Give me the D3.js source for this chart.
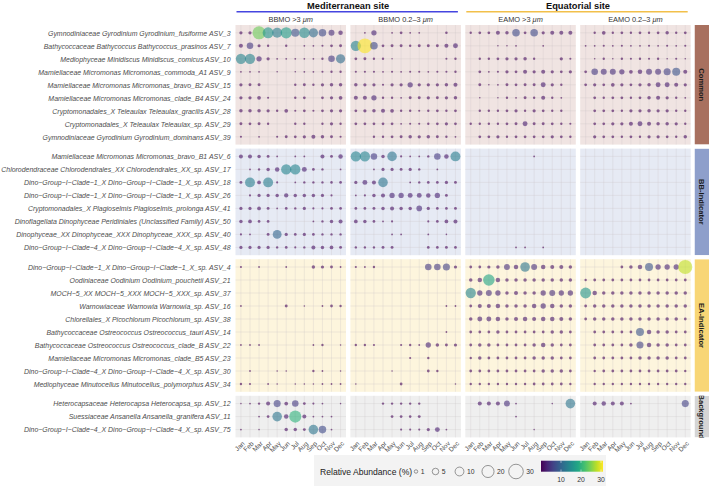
<!DOCTYPE html>
<html><head><meta charset="utf-8">
<script src="https://cdn.jsdelivr.net/npm/d3@7"></script>
<style>
body{margin:0;background:#fff;}
svg{display:block;font-family:"Liberation Sans",Arial,Helvetica,sans-serif;}
</style>
</head><body>
<svg id="chart" width="709" height="486"></svg>
<script>
// ---------------- DATA ----------------
const months = ["Jan","Feb","Mar","Apr","May","Jun","Jul","Aug","Sep","Oct","Nov","Dec"];
const siteTitles = ["Mediterranean site","Equatorial site"];
const panelTitles = [["BBMO >3 ","μm"],["BBMO 0.2–3 ","μm"],["EAMO >3 ","μm"],["EAMO 0.2–3 ","μm"]];
const groupNames = ["Common","BB-Indicator","EA-Indicator","Background"];

const commonRows = [
 "Gymnodiniaceae Gyrodinium Gyrodinium_fusiforme ASV_3",
 "Bathycoccaceae Bathycoccus Bathycoccus_prasinos ASV_7",
 "Mediophyceae Minidiscus Minidiscus_comicus ASV_10",
 "Mamiellaceae Micromonas Micromonas_commoda_A1 ASV_9",
 "Mamiellaceae Micromonas Micromonas_bravo_B2 ASV_15",
 "Mamiellaceae Micromonas Micromonas_clade_B4 ASV_24",
 "Cryptomonadales_X Teleaulax Teleaulax_gracilis ASV_28",
 "Cryptomonadales_X Teleaulax Teleaulax_sp. ASV_29",
 "Gymnodiniaceae Gyrodinium Gyrodinium_dominans ASV_39"];
const bbRows = [
 "Mamiellaceae Micromonas Micromonas_bravo_B1 ASV_6",
 "Chlorodendraceae Chlorodendrales_XX Chlorodendrales_XX_sp. ASV_17",
 "Dino−Group−I−Clade−1_X Dino−Group−I−Clade−1_X_sp. ASV_18",
 "Dino−Group−I−Clade−1_X Dino−Group−I−Clade−1_X_sp. ASV_26",
 "Cryptomonadales_X Plagioselmis Plagioselmis_prolonga ASV_41",
 "Dinoflagellata Dinophyceae Peridiniales (Unclassified Family) ASV_50",
 "Dinophyceae_XX Dinophyceae_XXX Dinophyceae_XXX_sp. ASV_40",
 "Dino−Group−I−Clade−4_X Dino−Group−I−Clade−4_X_sp. ASV_48"];
const eaRows = [
 "Dino−Group−I−Clade−1_X Dino−Group−I−Clade−1_X_sp. ASV_4",
 "Oodiniaceae Oodinium Oodinium_pouchetii ASV_21",
 "MOCH−5_XX MOCH−5_XXX MOCH−5_XXX_sp. ASV_37",
 "Warnowiaceae Warnowia Warnowia_sp. ASV_16",
 "Chlorellales_X Picochlorum Picochlorum_sp. ASV_38",
 "Bathycoccaceae Ostreococcus Ostreococcus_tauri ASV_14",
 "Bathycoccaceae Ostreococcus Ostreococcus_clade_B ASV_22",
 "Mamiellaceae Micromonas Micromonas_clade_B5 ASV_23",
 "Dino−Group−I−Clade−4_X Dino−Group−I−Clade−4_X_sp. ASV_30",
 "Mediophyceae Minutocellus Minutocellus_polymorphus ASV_34"];
const bgRows = [
 "Heterocapsaceae Heterocapsa Heterocapsa_sp. ASV_12",
 "Suessiaceae Ansanella Ansanella_granifera ASV_11",
 "Dino−Group−I−Clade−4_X Dino−Group−I−Clade−4_X_sp. ASV_75"];

// relative abundance (%) per row (order: common, bb, ea, background) x month; 0 = absent
const bbmoLarge = [
 [0.8,0.8,24,16,13,17,8,15,11,7,4,2],
 [1.5,5,0.7,0.3,0,0.3,0,0.1,0.1,0.2,0.5,0.6],
 [14,14,3,0.8,0.1,0.1,0.1,0.1,0.1,0.3,5,11],
 [0.1,0.1,0.1,0,0.05,0,0.05,0.1,0.1,0.2,0.3,0.3],
 [0.8,0.6,0.6,0,0,0,0.3,0.6,0.3,0.8,1,1],
 [0.8,0.8,1.2,0.2,0,0,0.3,0.5,0,0.5,0.8,1.2],
 [1,1,1,0.8,0.3,1.2,0.2,0.5,0.2,0.5,0.8,0.8],
 [0.6,0.5,0.6,0.3,0,0,0.3,0.3,0,0.3,0.8,0.3],
 [0.2,0,0.1,0,0.2,0.6,0.5,0.8,1.5,1,0.6,0.2],
 [1.5,1.5,1,0.6,0.1,0,0.1,0.1,0,1.5,0.6,2],
 [0,0.1,0.3,1,2,14,14,2.5,0.5,0.3,0,0.1],
 [0.6,13,1.2,13,0.2,0,0.1,0.3,0.3,0.3,0.4,0.5],
 [0,0.2,0.8,0.8,1,1.8,1,1,1,0.8,0.2,0],
 [0.8,0.8,1.2,0.6,0.1,0.5,0.3,0.8,0.2,0.2,0.5,0.5],
 [1,1.2,0.5,0.5,0,0,0,0,0.1,0.3,1,1.5],
 [0.2,0.1,0,0.6,10,0.8,0.5,0.8,0.5,0.3,0.3,0.3],
 [0.8,0.8,0.8,0.8,0.3,0.5,0.2,0.3,1.5,1,1.2,0.6],
 [0.2,0,0.1,0,0,0.1,0,0,1,0.8,0.6,0.1],
 [0,0,0,0,0,0,0,0,0,0,0,0],
 [0,0,0,0,0,0,0,0,0,0,0,0],
 [0.1,0,0,0,0,0.6,0,0.05,0,0.1,0.5,0.3],
 [0,0,0,0,0,0,0,0,0,0,0,0],
 [0,0,0,0,0,0,0,0,0,0,0,0],
 [0.1,0.1,0.1,0,0,0,0,0,0.1,0.3,0,0.05],
 [0,0,0,0,0,0,0,0,0,0,0,0],
 [0,0.1,0,0,0.05,0.05,0,0,0.3,0.1,0,0.05],
 [0.3,0.2,0,0.1,0.05,0,0.05,0.05,0.05,0.1,0.1,0.1],
 [0.05,0.1,0.3,1.5,6,1.2,5,0.5,0.2,0.1,0,0.05],
 [0,0,0.1,0.5,12,2,20,1.5,0.1,0.1,0.1,0],
 [0.1,0,0.05,0,0,1,1,0.6,12,7,0.1,0]];
const bbmoSmall = [
 [0,0.1,3,0,0.1,0.5,0.1,0.1,0,0,0.4,0],
 [14,31,7,0.5,0.6,0.6,0.3,0.6,0.6,0.6,1.5,2.5],
 [0.5,0.6,0.3,0.3,0.05,0,0,0,0,0,0.2,0.3],
 [0.2,0.2,0.2,0.1,0.2,0.1,0.2,0.2,0.1,0.2,0.2,0.3],
 [1,0.8,0.8,0.2,0.8,0.8,3,0.8,0.8,0.8,1,1.5],
 [1.5,1.5,3,0.3,0.3,0.1,0.6,0.6,0.8,0.6,0.8,1],
 [0.5,0.8,1,1.5,1.2,0.3,0.3,0.2,0.3,0.5,0.3,0.5],
 [0.5,0.5,0.5,0.5,0.5,0.1,0.2,0.2,0.3,0.5,0.8,0.5],
 [0,0,0.3,0.3,0.5,0.6,1,0.8,1,0.6,0.3,0.1],
 [14,14,5,1,12,0.2,0.1,0.1,0.3,5,2,13],
 [0,0,0.1,0.8,0.8,0.6,0.8,0.3,0,0.1,0,0],
 [0.8,2.5,1.5,12,0,0,0.1,0.3,0.5,0.5,0.8,0.6],
 [0.1,0.2,1,1.5,3,3,2.5,2.5,2,3,0.6,0],
 [0.5,0.5,0.6,1,1.5,1,1,3.5,0.8,0.5,0.5,0.6],
 [1.2,1,0.5,0.1,0.2,0,0,0,0.2,0.5,1.2,1.5],
 [0,0,0,0,0.1,0.1,0,0,0.1,0,0.05,0],
 [0.3,0.3,0.3,0.6,0.6,0,0,0,0.5,0.5,0.6,0.5],
 [0.2,0.1,0.3,0,0,0,0,0,5,5,6,0.8],
 [0,0,0,0,0,0,0,0,0,0,0,0],
 [0,0,0,0,0,0,0,0,0,0,0,0],
 [0,0,0,0,0,0,0,0,0,0,0.1,0.1],
 [0,0,0,0,0,0,0,0,0,0,0,0],
 [0,0,0,0,0,0,0,0,0,0,0.1,0],
 [0.3,0.3,0.2,0,0,0.2,0.3,0.1,3,1,0.6,0.8],
 [0,0,0,0,0,0,0.2,0,0.3,0,0,0],
 [0,0,0,0,0.05,0,0,0,0.5,0.3,0,0],
 [0.05,0,0,0,0,0.5,0,0,0,0,0,0.05],
 [0,0,0,0.3,0.3,0.3,0.3,0.3,0,0,0,0],
 [0,0,0,0,0.5,0.5,0.4,0.6,0,0,0,0],
 [0,0,0,0,0,0.2,0.2,0.2,0.8,2.5,0.1,0]];
const eamoLarge = [
 [0.3,0.5,0.5,1.5,1,7,0.5,7,0.8,1.5,1.5,1.5],
 [0,0,0,0.05,0.05,0.1,0,0,0.1,0,0,0],
 [0,0.3,0.3,0.5,0.8,0.8,1,0.3,0,0,0.8,0.2],
 [0,0.5,0.1,0.2,0.8,0.5,1.5,0.8,1.5,0.8,0.5,0.8],
 [0,0.6,0.05,0.1,0.6,0.5,0.6,0.6,2.5,0.8,0.3,0],
 [0,0.05,0,0.05,0.3,0.1,0.6,0.3,1.5,0.3,0.1,0],
 [0,0.3,0.3,0.3,0.5,0.8,0.3,0.8,0.5,0.3,0.3,0],
 [0.3,0.3,0.3,0.3,0.5,0.6,2.5,0.6,0.6,0.5,0.3,0.2],
 [0,0.5,0.5,0.8,0.3,0.5,0.5,0.5,0.5,0.8,0.5,0.3],
 [0,0,0,0,0,0,0,0.1,0,0,0,0],
 [0,0,0,0,0,0,0,0,0,0,0,0],
 [0,0,0,0,0,0,0,0,0,0,0,0],
 [0,0,0,0,0,0,0,0,0,0,0,0],
 [0,0,0,0,0,0,0,0,0,0,0,0],
 [0,0,0,0,0,0,0,0,0,0,0,0],
 [0,0,0,0,0,0,0,0,0,0,0,0],
 [0,0,0,0,0,0.1,0.1,0,0.1,0,0,0],
 [0.5,0.5,0.8,1,4,2,12,4,2,1.5,1.5,1],
 [1,2,18,2,1,1,1,1,1,1,1,1],
 [14,3,4,3,1,1.5,1,1,3,4,3,3],
 [0.5,1.5,1.5,2,1,1,1,2,3,2,1,1],
 [1,2.5,2.5,2,1,1.5,2,1.5,2,2,1.5,1],
 [0.5,0.5,0.5,1,0.5,0.5,0.5,0.5,0.5,1,1,0.5],
 [0.5,1,1,0.5,0.5,0.5,0.5,1,2,1,0.5,0.5],
 [0.3,1,0.5,0.5,0.5,0.5,0.5,1,1,1,0.5,0.5],
 [0.5,0.5,0.5,0.5,0.5,0.5,0.5,0.5,1,1,1,0.5],
 [0.3,0.3,0.3,0.3,0.3,0.3,0.3,0.5,0.5,0.5,0.5,0.3],
 [0,1.5,1.5,1.5,4,0.1,0,0,0,0.05,0,12],
 [0,0,0,0,0,0.1,0,0,0,0,0,0],
 [0,0,0,0,0,0,0,0.05,0,0,0,0]];
const eamoSmall = [
 [0,0.3,1.2,0.3,0.5,0.3,0.5,0.3,0.5,1,0.3,0.5],
 [0.1,0.1,0.2,0.1,0.2,0.1,0.1,0.2,0.1,0.2,0.1,0.2],
 [0,0.05,0.3,0.05,0.3,0.2,0.3,0.2,0.3,0.05,0.2,0.05],
 [0.5,5,4,4,3,1.2,2,4,4,6,8,1.5],
 [0.5,0.8,0.5,1.2,0.8,0.5,0.8,1,2.5,2.5,1.5,0.8],
 [0,0.5,0.3,0.5,0.5,0.3,0.5,1,1.5,0.8,0.3,0.1],
 [0,0.5,0.5,0.5,0.3,0.8,0.8,1,0.8,0.8,0.3,0.3],
 [0,0.5,0.5,0.8,0.8,1.5,2.5,1.5,1,1,0.8,0.3],
 [0,0.8,0.5,0.5,0.3,0.5,0.3,0.8,0.8,0.5,0.3,1],
 [0,0,0,0,0,0,0,0,0,0,0,0],
 [0,0,0,0,0,0,0,0,0,0,0,0],
 [0,0,0,0,0,0,0,0,0,0,0,0],
 [0,0,0,0,0,0,0,0,0,0,0,0],
 [0,0,0,0,0,0,0,0,0,0,0,0],
 [0,0,0,0,0,0,0,0,0,0,0,0],
 [0,0,0,0,0,0,0,0,0,0,0,0],
 [0,0,0,0,0,0,0,0,0,0,0,0],
 [0,0,0,0,0.5,1,2,8,3,3,3,28],
 [0.3,0.5,0.5,0.5,0.5,0.5,0.5,0.5,0.5,0.5,0.5,0.5],
 [16,2,1,1,1,1,1,1,1,1,1,1],
 [0.5,1,1,1,1,1,1,1,1,1,1,1],
 [0.5,1,1,1,1,1,1,1,1,1,1,0.5],
 [0,0.5,0.5,0.5,0.5,0.5,8,2,1,1,0.5,0.5],
 [0,0.5,0.5,0.5,0.5,1,6,2,1,1,0.5,0.5],
 [0,0.5,0.5,0.5,0.5,0.5,1,1,1,1,0.5,0.5],
 [0,0.3,0.5,0.5,0.5,0.5,0.5,0.5,0.5,0.5,0.5,0.3],
 [0,0.3,0.3,0.3,0.3,0.3,0.3,0.3,0.3,0.3,0.3,0.3],
 [0,1.5,2,1.5,1.5,0.1,0,0,0,0,0,6],
 [0,0,0,0,0,0,0,0,0,0,0,0],
 [0,0,0,0,0,0,0,0,0,0,0,0]];

const legendSizes = [1,5,10,20,30];
const colorTicks = [10,20,30];

// ---------------- LAYOUT ----------------
const svg = d3.select("#chart");
const panelData = [bbmoLarge, bbmoSmall, eamoLarge, eamoSmall];
const groupRows = [commonRows, bbRows, eaRows, bgRows];
const groupFill = ["#f0e4e2","#e6eaf4","#fdf5dd","#efefef"];
const stripFill = ["#a8705f","#8e9fcb","#f8d676","#d5d5d5"];
const px0 = 235.5, pw = 110.5, pgap = 4.4;
const topY = 25, unit = 13.0, vgap = 4;

const xScales = d3.range(4).map(i => d3.scalePoint().domain(months)
  .range([px0 + i*(pw+pgap), px0 + i*(pw+pgap) + pw]).padding(0.6));

let yc = topY;
const groups = groupRows.map((rows, gi) => {
  const h = (rows.length - 1 + 1.2) * unit;
  const g = {rows, y0: yc, h, gi,
    scale: d3.scalePoint().domain(rows).range([yc, yc + h]).padding(0.6)};
  yc += h + vgap;
  return g;
});
const yBottom = groups[3].y0 + groups[3].h;

const rScale = d3.scaleSqrt().domain([0,31]).range([0.5,7.4]);
const cScale = d3.scaleSequential(d3.interpolateViridis).domain([0,31]);

const defs = svg.append("defs");
const labelTexts = [];
groups.forEach((g, gi) => {
  xScales.forEach((xs, pi) => {
    const [xa, xb] = xs.range();
    const pg = svg.append("g");
    pg.append("rect").attr("x", xa).attr("y", g.y0).attr("width", xb - xa).attr("height", g.h)
      .attr("fill", groupFill[gi]);
    pg.selectAll("line.v").data(months).join("line")
      .attr("x1", d => xs(d)).attr("x2", d => xs(d)).attr("y1", g.y0).attr("y2", g.y0 + g.h)
      .attr("stroke", "#c9c2c4").attr("stroke-opacity", 0.55).attr("stroke-width", 0.5);
    pg.selectAll("line.h").data(g.rows).join("line")
      .attr("y1", d => g.scale(d)).attr("y2", d => g.scale(d)).attr("x1", xa).attr("x2", xb)
      .attr("stroke", "#c9c2c4").attr("stroke-opacity", 0.55).attr("stroke-width", 0.5);
  });
  const cid = "clip" + gi;
  defs.append("clipPath").attr("id", cid).append("rect")
    .attr("x", 694.5).attr("y", g.y0).attr("width", 16).attr("height", g.h);
  const sg = svg.append("g").attr("clip-path", `url(#${cid})`);
  sg.append("rect").attr("x", 694.5).attr("y", g.y0).attr("width", 16).attr("height", g.h)
    .attr("fill", stripFill[gi]);
  sg.append("text").attr("transform", `translate(701.8,${g.y0 + g.h/2}) rotate(90)`)
    .attr("text-anchor", "middle").attr("dy", "0.35em")
    .attr("font-size", 7.6).attr("font-weight", "bold").attr("fill", "#1a1a1a")
    .text(groupNames[gi]);
  const ax = svg.append("g").attr("transform", `translate(${px0},0)`)
    .call(d3.axisLeft(g.scale).tickSize(0).tickPadding(5));
  ax.select(".domain").remove();
  ax.selectAll("text").attr("font-size", 7.1).attr("font-style", "italic")
    .attr("fill", "#4d4d4d").attr("font-family", "'Liberation Sans',Arial,sans-serif")
    .each(function(){ labelTexts.push(this); });
});
// fit the widest row label inside the left margin
const maxW = d3.max(labelTexts, t => t.getComputedTextLength());
const avail = px0 - 5 - 1;
if (maxW > avail) {
  const fs = 7.1 * avail / maxW;
  labelTexts.forEach(t => t.setAttribute("font-size", fs));
}

const allRows = groupRows.flat();
panelData.forEach((data, pi) => {
  const xs = xScales[pi];
  const pts = [];
  data.forEach((row, ri) => {
    const name = allRows[ri];
    const g = groups.find(gg => gg.rows.includes(name));
    row.forEach((v, mi) => { if (v > 0) pts.push({x: xs(months[mi]), y: g.scale(name), v}); });
  });
  svg.append("g").selectAll("circle").data(pts).join("circle")
    .attr("cx", d => d.x).attr("cy", d => d.y).attr("r", d => rScale(d.v))
    .attr("fill", d => cScale(d.v)).attr("fill-opacity", 0.6);
});

xScales.forEach(xs => {
  const ax = svg.append("g").attr("transform", `translate(0,${yBottom})`)
    .call(d3.axisBottom(xs).tickSize(0).tickPadding(0));
  ax.select(".domain").remove();
  ax.selectAll("text").attr("font-size", 6.6).attr("fill", "#4d4d4d")
    .attr("text-anchor", "end").attr("dy", "0.35em")
    .attr("transform", "translate(2,5) rotate(-45)");
});

const sites = [[0,1],[2,3]];
const siteColors = ["#4545e0","#f2c04a"];
sites.forEach((pp, si) => {
  const xa = xScales[pp[0]].range()[0], xb = xScales[pp[1]].range()[1];
  svg.append("text").attr("x", (xa + xb)/2).attr("y", 8.5).attr("text-anchor", "middle")
    .attr("font-size", 9.3).attr("font-weight", "bold").attr("fill", "#111").text(siteTitles[si]);
  svg.append("line").attr("x1", xa + 1).attr("x2", xb - 3).attr("y1", 11.8).attr("y2", 11.8)
    .attr("stroke", siteColors[si]).attr("stroke-width", 1.5);
});
xScales.forEach((xs, pi) => {
  const [xa, xb] = xs.range();
  const t = svg.append("text").attr("x", (xa + xb)/2).attr("y", 21.8).attr("text-anchor", "middle")
    .attr("font-size", 7.4).attr("fill", "#333");
  t.append("tspan").text(panelTitles[pi][0]);
  t.append("tspan").attr("font-style", "italic").text(panelTitles[pi][1]);
});

const lg = svg.append("g");
lg.append("rect").attr("x", 314).attr("y", 455).attr("width", 292).attr("height", 31).attr("fill", "#f3f3f3");
lg.append("text").attr("x", 320).attr("y", 474.5).attr("font-size", 8.6).attr("fill", "#222")
  .text("Relative Abundance (%)");
const lx = [416, 435.5, 459.5, 488, 516];
legendSizes.forEach((s, i) => {
  lg.append("circle").attr("cx", lx[i]).attr("cy", 471.5).attr("r", rScale(s))
    .attr("fill", "none").attr("stroke", "#555").attr("stroke-width", 0.6);
  lg.append("text").attr("x", lx[i] + rScale(s) + 3).attr("y", 474).attr("font-size", 6.8)
    .attr("fill", "#333").text(s);
});
const grad = defs.append("linearGradient").attr("id", "vir");
d3.range(0, 1.01, 0.1).forEach(t => grad.append("stop").attr("offset", t).attr("stop-color", d3.interpolateViridis(t)));
const cbx = 541, cbw = 62, cby = 460.7, cbh = 11;
const cbScale = d3.scaleLinear().domain([0,31]).range([cbx, cbx + cbw]);
lg.append("rect").attr("x", cbx).attr("y", cby).attr("width", cbw).attr("height", cbh).attr("fill", "url(#vir)");
colorTicks.forEach(t => {
  lg.append("line").attr("x1", cbScale(t)).attr("x2", cbScale(t)).attr("y1", cby).attr("y2", cby + 2.2)
    .attr("stroke", "#fff").attr("stroke-width", 0.5);
  lg.append("line").attr("x1", cbScale(t)).attr("x2", cbScale(t)).attr("y1", cby + cbh - 2.2).attr("y2", cby + cbh)
    .attr("stroke", "#fff").attr("stroke-width", 0.5);
  lg.append("text").attr("x", cbScale(t)).attr("y", 481.5).attr("text-anchor", "middle")
    .attr("font-size", 6.8).attr("fill", "#333").text(t);
});
</script>
</body></html>
